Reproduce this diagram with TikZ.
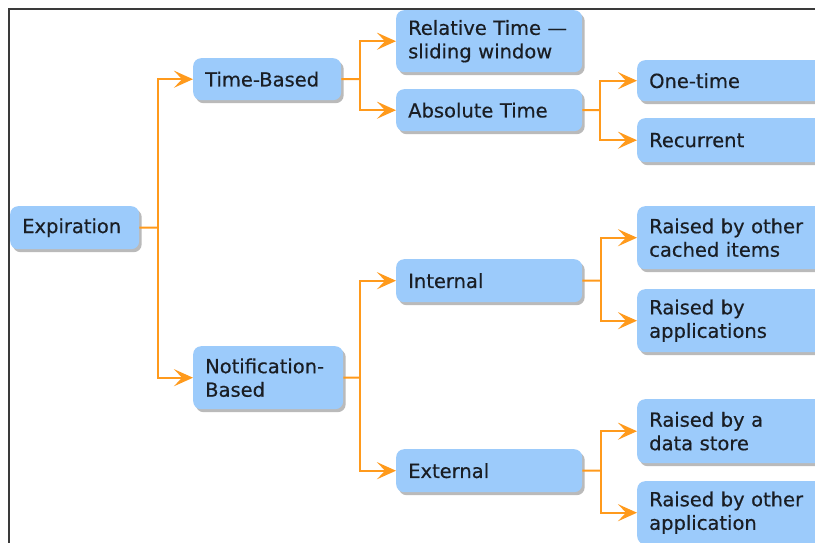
\documentclass[tikz,border=0pt]{standalone}
\usepackage{fontspec}
\setmainfont{DejaVu Sans}
\newfontfamily\boxfont{DejaVu Sans}[FakeBold=0.4]
\usetikzlibrary{arrows.meta,shadows}
\definecolor{boxblue}{HTML}{9CCBFB}
\definecolor{linkorange}{HTML}{FF9A1C}
\definecolor{textdark}{HTML}{1A1E24}
\definecolor{framegray}{HTML}{3A3A3A}
\tikzset{chevron/.tip={Stealth[length=19pt,width=17pt,inset=8pt]}}
\begin{document}
\begin{tikzpicture}[x=1pt,y=-1pt,
  box/.style={fill=boxblue, rounded corners=8pt, anchor=north west,
    inner xsep=12pt, inner ysep=3pt, align=left, text=textdark,
    font=\boxfont\fontsize{19.5}{23.5}\selectfont,
    drop shadow={shadow xshift=2.5pt, shadow yshift=-3pt, fill=black!45, opacity=.6}},
  link/.style={draw=linkorange, line width=2pt},
  conn/.style={link, -chevron}]
\useasboundingbox (0,0) rectangle (815,542);
\clip (0,0) rectangle (815,542);
\fill[white] (0,0) rectangle (815,542);
% outer frame (top and left edges)
\draw[framegray, line width=1.3pt] (9,550) -- (9,9) -- (830,9);

% boxes
\node[box, text width=105pt, minimum height=43pt] (exp) at (10,206) {Expiration};
\node[box, text width=124pt, minimum height=42pt] (tb) at (193,58) {Time-Based};
\node[box, text width=126pt, minimum height=63pt] (nb) at (193,346) {Notification-\\Based};
\node[box, text width=162pt, minimum height=62pt] (rel) at (396,10) {Relative Time —\\sliding window};
\node[box, text width=162pt, minimum height=42pt] (abs) at (396,89) {Absolute Time};
\node[box, text width=180pt, minimum height=41pt] (one) at (637,60) {One-time};
\node[box, text width=180pt, minimum height=44pt] (rec) at (637,118) {Recurrent};
\node[box, text width=162pt, minimum height=43pt] (int) at (396,259) {Internal};
\node[box, text width=162pt, minimum height=43pt] (ext) at (396,449) {External};
\node[box, text width=180pt, minimum height=63pt] (r1) at (637,206) {Raised by other\\cached items};
\node[box, text width=180pt, minimum height=63pt] (r2) at (637,289) {Raised by\\applications};
\node[box, text width=180pt, minimum height=64pt] (r3) at (637,399) {Raised by a\\data store};
\node[box, text width=180pt, minimum height=63pt] (r4) at (637,481) {Raised by other\\application};

% branch points
\coordinate (j0) at (158,227.5);
\coordinate (j1) at (360,79);
\coordinate (j2) at (360,377.5);
\coordinate (j3) at (600,110);
\coordinate (j4) at (601,280.5);
\coordinate (j5) at (601,470.5);

% connectors
\draw[link] (exp.east) -- (j0);
\draw[conn] (j0) |- (tb.west);
\draw[conn] (j0) |- (nb.west);
\draw[link] (tb.east) -- (j1);
\draw[conn] (j1) |- (rel.west);
\draw[conn] (j1) |- (abs.west);
\draw[link] (nb.east) -- (j2);
\draw[conn] (j2) |- (int.west);
\draw[conn] (j2) |- (ext.west);
\draw[link] (abs.east) -- (j3);
\draw[conn] (j3) |- (one.west);
\draw[conn] (j3) |- (rec.west);
\draw[link] (int.east) -- (j4);
\draw[conn] (j4) |- (r1.west);
\draw[conn] (j4) |- (r2.west);
\draw[link] (ext.east) -- (j5);
\draw[conn] (j5) |- (r3.west);
\draw[conn] (j5) |- (r4.west);
\end{tikzpicture}
\end{document}
